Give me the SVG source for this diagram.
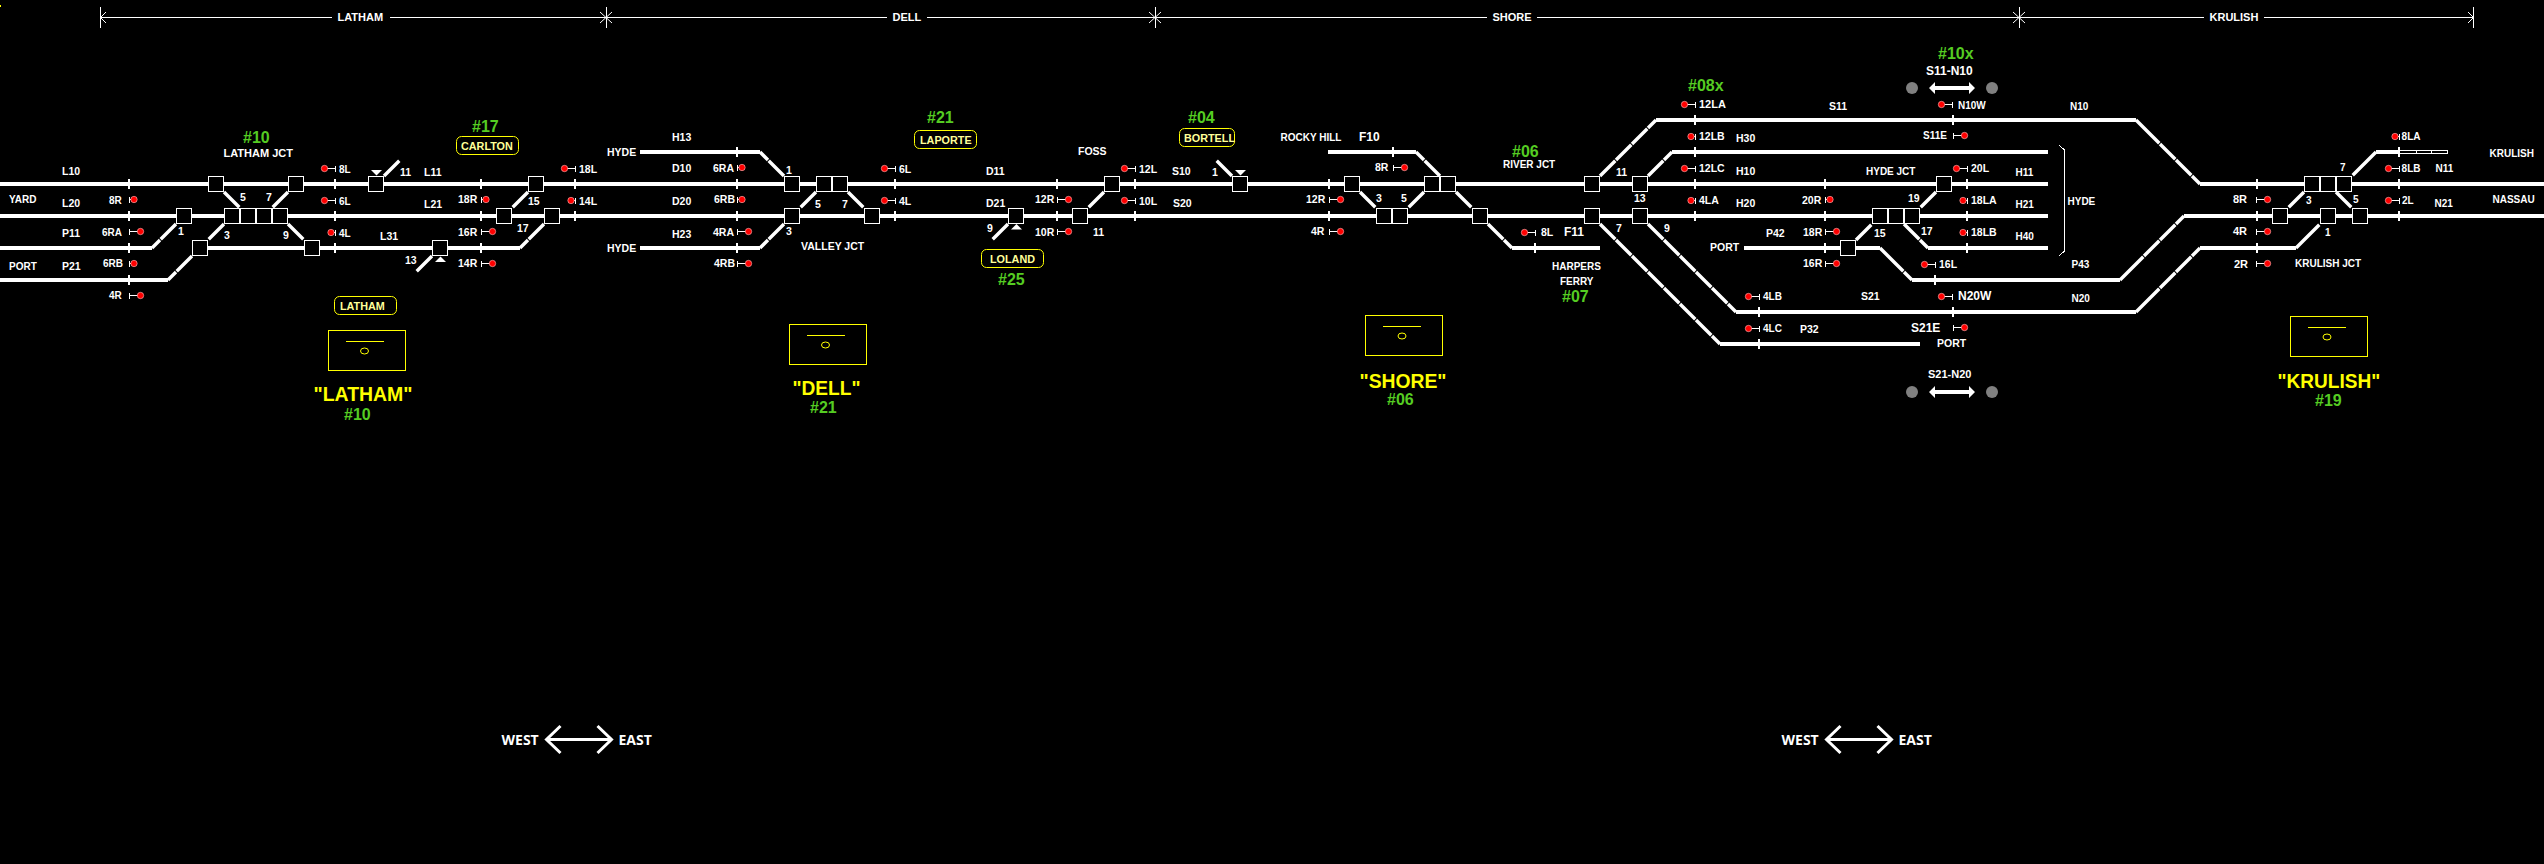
<svg xmlns="http://www.w3.org/2000/svg" xmlns:xlink="http://www.w3.org/1999/xlink" width="2544" height="864" viewBox="0 0 2544 864">
<style>
text{font-family:"Liberation Sans",Arial,sans-serif;font-weight:bold;font-size:10.500px;fill:#fff}
.s{font-size:10px}
.m{font-size:11px}
.l{font-size:12px}
.g{font-size:16px;fill:#55cc22}
.p{font-size:10.800px;fill:#ffff99}
.big{font-size:20px;fill:#ffff00}
.we{font-family:"Open Sans",sans-serif;font-size:14px}
.tr{fill:none;stroke:#fff;stroke-width:4;shape-rendering:crispEdges}
.dg{fill:none;stroke:#fff;stroke-width:3.400;stroke-dasharray:21.627 1}
.tk{fill:none;stroke:#fff;stroke-width:2;shape-rendering:crispEdges}
.thin{fill:none;stroke:#fff;stroke-width:1;shape-rendering:crispEdges}
.bx{fill:#000;stroke:#fff;stroke-width:1;shape-rendering:crispEdges}
.pill{fill:#000;stroke:#ffff00;stroke-width:1}
.st{fill:none;stroke:#ffff00;stroke-width:1;shape-rendering:crispEdges}
.stc{fill:none;stroke:#ffff00;stroke-width:1}
.dot{fill:#ff0000;stroke:#ffc0c0;stroke-width:0.600}
.sl{fill:none;stroke:#fff;stroke-width:1;shape-rendering:crispEdges}
</style>
<defs>
<rect id="b" class="bx" x="-7.5" y="-7.5" width="15" height="15"/>
<g id="sl"><path class="sl" d="M-11 0H0M0 -3V3"/><circle class="dot" cx="-11" r="3.2"/></g>
<g id="sr"><path class="sl" d="M11 0H0M0 -3V3"/><circle class="dot" cx="11" r="3.2"/></g>
<g id="sls"><path class="sl" d="M-4 0H0M0 -3V3"/><circle class="dot" cx="-4.5" r="3.2"/></g>
<g id="srs"><path class="sl" d="M4 0H0M0 -3V3"/><circle class="dot" cx="4.5" r="3.2"/></g>
<polygon id="da" fill="#fff" points="-23,0 -17,-6 -17,-2 17,-2 17,-6 23,0 17,6 17,2 -17,2 -17,6"/>
<path id="we" fill="none" stroke="#fff" stroke-width="3" d="M-32 0H33M-18 -13.500L-32 0L-18 13.500M19 -13.500L33 0L19 13.500"/>
<g id="stn"><rect class="st" x="0.500" y="0.500" width="77" height="40"/><path class="st" d="M18 11.500H56"/><ellipse class="stc" cx="37" cy="21" rx="4" ry="3"/></g>
</defs>
<rect x="0" y="0" width="2544" height="864" fill="#000"/>
<rect x="0" y="5" width="1" height="2" fill="#ffff00"/>
<g id="connectors">
<path class="tr" d="M0 184H2048M2200 184H2544M0 216H2048M2184 216H2544M0 248H152M200 248H520M640 248H760M1512 248H1600M1744 248H1880M1928 248H2048M2200 248H2296M640 152H760M1328 152H1416M1672 152H2048M2376 152H2399M1656 120H2136M0 280H168M1912 280H2120M1736 312H2136M1720 344H1920"/>
<path class="dg" d="M176 224L152 248M192 256L168 280M224 192L240 208M288 192L272 208M224 224L208 240M288 224L304 240M384 176L400 160M432 256L416 272M528 192L512 208M544 224L520 248M784 176L760 152M784 224L760 248M816 192L800 208M848 192L864 208M1008 224L992 240M1104 192L1088 208M1232 176L1216 160M1360 192L1376 208M1424 192L1408 208M1440 176L1416 152M1456 192L1472 208M1488 224L1512 248M1600 176L1656 120M1648 176L1672 152M1648 224L1736 312M1600 224L1720 344M1936 192L1920 208M1856 240L1872 224M1904 224L1928 248M1888 256L1880 248M1888 256L1912 280M2144 128L2136 120M2144 128L2200 184M2128 272L2120 280M2128 272L2184 216M2144 304L2136 312M2144 304L2200 248M2304 240L2296 248M2304 240L2320 224M2304 192L2288 208M2336 192L2352 208M2368 160L2376 152M2368 160L2352 176"/>
<path class="tk" d="M129 179V189M129 211V221M129 243V253M129 275V285M335 179V189M335 211V221M335 243V253M481 179V189M481 211V221M481 243V253M575 179V189M575 211V221M737 147V157M737 179V189M737 211V221M737 243V253M895 179V189M895 211V221M1057 179V189M1057 211V221M1135 179V189M1135 211V221M1329 179V189M1329 211V221M1393 147V157M1535 243V253M1695 115V125M1695 147V157M1695 179V189M1695 211V221M1825 179V189M1825 211V221M1825 243V253M1967 179V189M1967 211V221M1967 243V253M1953 115V125M1935 275V285M1759 307V317M1759 339V349M1953 307V317M2257 179V189M2257 211V221M2257 243V253M2399 147V157M2399 179V189M2399 211V221"/>
<rect class="thin" x="2399.500" y="150.500" width="48" height="3"/>
<path class="thin" d="M2416.500 150V154M2431.500 150V154"/>
<path class="thin" d="M2059 145L2064.500 150V251L2059 256"/>
</g>
<g id="direction-scale">
<path class="thin" d="M100.500 17.500H332M390 17.500H887M927 17.500H1487M1537 17.500H2204M2264 17.500H2473"/>
<path class="thin" d="M100.500 7V28M606.500 7V28M1155.500 7V28M2019.500 7V28M2473.500 7V28"/>
<path fill="none" stroke="#fff" stroke-width="1" d="M106 12L100.500 17.500L106 23M600 12L606 17.500L600 23M612 12L606 17.500L612 23M1149 12L1155 17.500L1149 23M1161 12L1155 17.500L1161 23M2013 12L2019 17.500L2013 23M2025 12L2019 17.500L2025 23M2468 12L2473.500 17.500L2468 23"/>
<text class="m" x="337.500" y="21">LATHAM</text><text class="m" x="892.600" y="21">DELL</text><text class="m" x="1492.500" y="21">SHORE</text><text class="m" x="2209.500" y="21">KRULISH</text>
</g>
<g id="switch-216-184"><use xlink:href="#b" x="216" y="184"/></g>
<g id="switch-296-184"><use xlink:href="#b" x="296" y="184"/></g>
<g id="switch-376-184"><use xlink:href="#b" x="376" y="184"/><polygon fill="#fff" points="371,170 382,170 376.500,175.500"/></g>
<g id="switch-536-184"><use xlink:href="#b" x="536" y="184"/></g>
<g id="switch-792-184"><use xlink:href="#b" x="792" y="184"/></g>
<g id="switch-824-184"><use xlink:href="#b" x="824" y="184"/></g>
<g id="switch-840-184"><use xlink:href="#b" x="840" y="184"/></g>
<g id="switch-1112-184"><use xlink:href="#b" x="1112" y="184"/></g>
<g id="switch-1240-184"><use xlink:href="#b" x="1240" y="184"/><polygon fill="#fff" points="1235,170 1246,170 1240.500,175.500"/></g>
<g id="switch-1352-184"><use xlink:href="#b" x="1352" y="184"/></g>
<g id="switch-1432-184"><use xlink:href="#b" x="1432" y="184"/></g>
<g id="switch-1448-184"><use xlink:href="#b" x="1448" y="184"/></g>
<g id="switch-1592-184"><use xlink:href="#b" x="1592" y="184"/></g>
<g id="switch-1640-184"><use xlink:href="#b" x="1640" y="184"/></g>
<g id="switch-1944-184"><use xlink:href="#b" x="1944" y="184"/></g>
<g id="switch-2312-184"><use xlink:href="#b" x="2312" y="184"/></g>
<g id="switch-2328-184"><use xlink:href="#b" x="2328" y="184"/></g>
<g id="switch-2344-184"><use xlink:href="#b" x="2344" y="184"/></g>
<g id="switch-184-216"><use xlink:href="#b" x="184" y="216"/></g>
<g id="switch-232-216"><use xlink:href="#b" x="232" y="216"/></g>
<g id="switch-248-216"><use xlink:href="#b" x="248" y="216"/></g>
<g id="switch-264-216"><use xlink:href="#b" x="264" y="216"/></g>
<g id="switch-280-216"><use xlink:href="#b" x="280" y="216"/></g>
<g id="switch-504-216"><use xlink:href="#b" x="504" y="216"/></g>
<g id="switch-552-216"><use xlink:href="#b" x="552" y="216"/></g>
<g id="switch-792-216"><use xlink:href="#b" x="792" y="216"/></g>
<g id="switch-872-216"><use xlink:href="#b" x="872" y="216"/></g>
<g id="switch-1016-216"><use xlink:href="#b" x="1016" y="216"/><polygon fill="#fff" points="1011,229.500 1022,229.500 1016.500,224"/></g>
<g id="switch-1080-216"><use xlink:href="#b" x="1080" y="216"/></g>
<g id="switch-1384-216"><use xlink:href="#b" x="1384" y="216"/></g>
<g id="switch-1400-216"><use xlink:href="#b" x="1400" y="216"/></g>
<g id="switch-1480-216"><use xlink:href="#b" x="1480" y="216"/></g>
<g id="switch-1592-216"><use xlink:href="#b" x="1592" y="216"/></g>
<g id="switch-1640-216"><use xlink:href="#b" x="1640" y="216"/></g>
<g id="switch-1880-216"><use xlink:href="#b" x="1880" y="216"/></g>
<g id="switch-1896-216"><use xlink:href="#b" x="1896" y="216"/></g>
<g id="switch-1912-216"><use xlink:href="#b" x="1912" y="216"/></g>
<g id="switch-2280-216"><use xlink:href="#b" x="2280" y="216"/></g>
<g id="switch-2328-216"><use xlink:href="#b" x="2328" y="216"/></g>
<g id="switch-2360-216"><use xlink:href="#b" x="2360" y="216"/></g>
<g id="switch-200-248"><use xlink:href="#b" x="200" y="248"/></g>
<g id="switch-312-248"><use xlink:href="#b" x="312" y="248"/></g>
<g id="switch-440-248"><use xlink:href="#b" x="440" y="248"/><polygon fill="#fff" points="435,262 446,262 440.500,256.500"/></g>
<g id="switch-1848-248"><use xlink:href="#b" x="1848" y="248"/></g>
<g id="signals">
<g id="sig-8L-a"><use xlink:href="#sl" x="335.500" y="168.500"/><text class="s" x="339" y="173">8L</text></g>
<g id="sig-6L-a"><use xlink:href="#sl" x="335.500" y="200.500"/><text class="s" x="339" y="205">6L</text></g>
<g id="sig-4L-a"><use xlink:href="#sls" x="335.500" y="232.500"/><text class="s" x="339" y="237">4L</text></g>
<g id="sig-8R-a"><use xlink:href="#srs" x="129.500" y="199.500"/><text class="s" x="109" y="204">8R</text></g>
<g id="sig-6RA-a"><use xlink:href="#sr" x="129.500" y="231.500"/><text class="s" x="102" y="236">6RA</text></g>
<g id="sig-6RB-a"><use xlink:href="#srs" x="129.500" y="263.500"/><text class="s" x="103" y="267">6RB</text></g>
<g id="sig-4R-a"><use xlink:href="#sr" x="129.500" y="295.500"/><text class="s" x="109" y="299">4R</text></g>
<g id="sig-18L-a"><use xlink:href="#sl" x="575.500" y="168.500"/><text x="579" y="173">18L</text></g>
<g id="sig-14L-a"><use xlink:href="#sls" x="575.500" y="200.500"/><text x="579" y="205">14L</text></g>
<g id="sig-18R-a"><use xlink:href="#srs" x="481.500" y="199.500"/><text x="458" y="203">18R</text></g>
<g id="sig-16R-a"><use xlink:href="#sr" x="481.500" y="231.500"/><text x="458" y="236">16R</text></g>
<g id="sig-14R-a"><use xlink:href="#sr" x="481.500" y="263.500"/><text x="458" y="267">14R</text></g>
<g id="sig-6RA-b"><use xlink:href="#srs" x="737.500" y="167.500"/><text x="713" y="172">6RA</text></g>
<g id="sig-6RB-b"><use xlink:href="#srs" x="737.500" y="199.500"/><text x="714" y="203">6RB</text></g>
<g id="sig-4RA-b"><use xlink:href="#sr" x="737.500" y="231.500"/><text x="713" y="236">4RA</text></g>
<g id="sig-4RB-b"><use xlink:href="#sr" x="737.500" y="263.500"/><text x="714" y="267">4RB</text></g>
<g id="sig-6L-b"><use xlink:href="#sl" x="895.500" y="168.500"/><text x="899" y="173">6L</text></g>
<g id="sig-4L-b"><use xlink:href="#sl" x="895.500" y="200.500"/><text x="899" y="205">4L</text></g>
<g id="sig-12R-b"><use xlink:href="#sr" x="1057.500" y="199.500"/><text x="1035" y="203">12R</text></g>
<g id="sig-10R-b"><use xlink:href="#sr" x="1057.500" y="231.500"/><text x="1035" y="236">10R</text></g>
<g id="sig-12L-b"><use xlink:href="#sl" x="1135.500" y="168.500"/><text x="1139" y="173">12L</text></g>
<g id="sig-10L-b"><use xlink:href="#sl" x="1135.500" y="200.500"/><text x="1139" y="205">10L</text></g>
<g id="sig-12R-c"><use xlink:href="#sr" x="1329.500" y="199.500"/><text x="1306" y="203">12R</text></g>
<g id="sig-4R-c"><use xlink:href="#sr" x="1329.500" y="231.500"/><text x="1311" y="235">4R</text></g>
<g id="sig-8R-c"><use xlink:href="#sr" x="1393.500" y="167.500"/><text x="1375" y="171">8R</text></g>
<g id="sig-8L-c"><use xlink:href="#sl" x="1535.500" y="232.500"/><text x="1541" y="236">8L</text></g>
<g id="sig-12LA"><use xlink:href="#sl" x="1695.500" y="104.500"/><text class="m" x="1699" y="108">12LA</text></g>
<g id="sig-12LB"><use xlink:href="#sls" x="1695.500" y="136.500"/><text x="1699" y="140">12LB</text></g>
<g id="sig-12LC"><use xlink:href="#sl" x="1695.500" y="168.500"/><text x="1699" y="172">12LC</text></g>
<g id="sig-4LA"><use xlink:href="#sls" x="1695.500" y="200.500"/><text x="1699" y="204">4LA</text></g>
<g id="sig-N10W"><use xlink:href="#sl" x="1952.500" y="104.500"/><text class="s" x="1958" y="108.700">N10W</text></g>
<g id="sig-S11E"><use xlink:href="#sr" x="1953.500" y="135.500"/><text class="s" x="1923" y="139">S11E</text></g>
<g id="sig-20L"><use xlink:href="#sl" x="1967.500" y="168.500"/><text x="1971" y="172">20L</text></g>
<g id="sig-20R"><use xlink:href="#srs" x="1825.500" y="199.500"/><text x="1802" y="204">20R</text></g>
<g id="sig-18LA"><use xlink:href="#sls" x="1967.500" y="200.500"/><text x="1971" y="204">18LA</text></g>
<g id="sig-18R-e"><use xlink:href="#sr" x="1825.500" y="231.500"/><text x="1803" y="236">18R</text></g>
<g id="sig-18LB"><use xlink:href="#sls" x="1967.500" y="232.500"/><text x="1971" y="236">18LB</text></g>
<g id="sig-16R-e"><use xlink:href="#sr" x="1825.500" y="263.500"/><text x="1803" y="267">16R</text></g>
<g id="sig-16L-e"><use xlink:href="#sl" x="1935.500" y="264.500"/><text x="1939" y="268">16L</text></g>
<g id="sig-4LB"><use xlink:href="#sl" x="1759.500" y="296.500"/><text class="s" x="1763" y="300">4LB</text></g>
<g id="sig-4LC"><use xlink:href="#sl" x="1759.500" y="328.500"/><text class="s" x="1763" y="332">4LC</text></g>
<g id="sig-N20W"><use xlink:href="#sl" x="1952.500" y="296.500"/><text class="l" x="1958" y="300">N20W</text></g>
<g id="sig-S21E"><use xlink:href="#sr" x="1953.500" y="327.500"/><text class="l" x="1911" y="331.700">S21E</text></g>
<g id="sig-8LA"><use xlink:href="#sls" x="2399.500" y="136.500"/><text class="s" x="2401.600" y="140">8LA</text></g>
<g id="sig-8LB"><use xlink:href="#sl" x="2399.500" y="168.500"/><text class="s" x="2401.600" y="172">8LB</text></g>
<g id="sig-2L"><use xlink:href="#sl" x="2399.500" y="200.500"/><text class="s" x="2402" y="204">2L</text></g>
<g id="sig-8R-k"><use xlink:href="#sr" x="2256.500" y="199.500"/><text class="m" x="2233" y="203">8R</text></g>
<g id="sig-4R-k"><use xlink:href="#sr" x="2256.500" y="231.500"/><text class="m" x="2233" y="235">4R</text></g>
<g id="sig-2R-k"><use xlink:href="#sr" x="2256.500" y="263.500"/><text class="m" x="2234" y="267.700">2R</text></g>
</g>
<g id="labels">
<text class="g" x="243" y="142.500">#10</text>
<text class="m" x="223.500" y="157">LATHAM JCT</text>
<text x="62" y="175">L10</text><text class="s" x="9" y="203">YARD</text><text x="62" y="207">L20</text><text x="62" y="237">P11</text><text class="s" x="9" y="270">PORT</text><text x="62" y="270">P21</text>
<text x="178" y="235">1</text><text x="224" y="239">3</text><text x="240" y="201">5</text><text x="266" y="201">7</text><text x="283" y="239">9</text>
<text x="400" y="176">11</text><text x="380" y="240">L31</text><text x="405" y="264">13</text>
<text class="g" x="472" y="132">#17</text>
<text x="424" y="176">L11</text><text x="424" y="208">L21</text><text x="528" y="205">15</text><text x="517" y="232">17</text>
<text x="607" y="156">HYDE</text><text x="672" y="141">H13</text><text x="672" y="172">D10</text><text x="786" y="174">1</text><text x="672" y="205">D20</text><text x="672" y="238">H23</text><text x="607" y="252">HYDE</text><text x="786" y="235">3</text><text x="815" y="208">5</text><text x="842" y="208">7</text><text x="801" y="250">VALLEY JCT</text>
<text class="g" x="927" y="122.500">#21</text>
<text class="g" x="1188" y="123">#04</text>
<text x="986" y="175">D11</text><text x="986" y="207">D21</text><text x="1078" y="155">FOSS</text><text x="1172" y="175">S10</text><text x="1173" y="207">S20</text><text x="987" y="232">9</text><text x="1093" y="236">11</text>
<text class="g" x="998" y="285">#25</text>
<text x="1212" y="176">1</text><text class="s" x="1280.500" y="141">ROCKY HILL</text><text class="l" x="1359" y="141">F10</text><text x="1376" y="202">3</text><text x="1401" y="202">5</text>
<text class="g" x="1512" y="157">#06</text>
<text class="s" x="1503" y="168">RIVER JCT</text><text class="l" x="1564" y="236">F11</text><text class="s" x="1552" y="270">HARPERS</text><text class="s" x="1560" y="285">FERRY</text>
<text class="g" x="1562" y="301.500">#07</text>
<text class="g" x="1688" y="91">#08x</text>
<text class="g" x="1938" y="59">#10x</text>
<text class="l" x="1926" y="75">S11-N10</text>
<text x="1829" y="110">S11</text><text x="1736" y="141.500">H30</text><text x="1736" y="174.500">H10</text><text class="s" x="1866" y="174.500">HYDE JCT</text>
<text x="1616" y="176">11</text><text x="1634" y="202">13</text><text x="1736" y="206.500">H20</text><text x="1908" y="202">19</text><text x="1616" y="231.500">7</text><text x="1664" y="231.500">9</text>
<text x="1766" y="236.500">P42</text><text x="1874" y="237">15</text><text x="1921" y="235">17</text><text x="1710" y="250.500">PORT</text><text x="1861" y="300">S21</text><text x="1800" y="332.500">P32</text><text x="1937" y="347">PORT</text><text class="m" x="1928" y="377.500">S21-N20</text>
<text class="s" x="2070" y="110">N10</text><text class="s" x="2015.500" y="175.500">H11</text><text class="s" x="2015.500" y="208">H21</text><text class="s" x="2015.500" y="240">H40</text><text class="s" x="2067.500" y="205">HYDE</text><text class="s" x="2071.500" y="267.500">P43</text><text class="s" x="2071.500" y="301.500">N20</text>
<text class="s" x="2306" y="203.500">3</text><text class="s" x="2353" y="202.500">5</text><text class="s" x="2325" y="236">1</text><text class="s" x="2340" y="171">7</text>
<text class="s" x="2435.500" y="172">N11</text><text class="s" x="2489.500" y="156.500">KRULISH</text><text class="s" x="2434.500" y="207">N21</text><text class="s" x="2492.500" y="203">NASSAU</text><text class="s" x="2295" y="266.500">KRULISH JCT</text>
</g>
<g id="crossover-s11-n10"><circle cx="1912" cy="88" r="6" fill="#808080"/><circle cx="1992" cy="88" r="6" fill="#808080"/><use xlink:href="#da" x="1952" y="88"/></g>
<g id="crossover-s21-n20"><circle cx="1912" cy="392" r="6" fill="#808080"/><circle cx="1992" cy="392" r="6" fill="#808080"/><use xlink:href="#da" x="1952" y="392"/></g>
<g id="pill-carlton"><rect class="pill" x="456.500" y="136.500" width="62" height="18" rx="5"/><text class="p" x="461" y="150">CARLTON</text></g>
<g id="pill-laporte"><rect class="pill" x="914.500" y="130.500" width="62" height="18" rx="5"/><text class="p" x="920" y="144">LAPORTE</text></g>
<g id="pill-bortell"><rect class="pill" x="1179.500" y="128.500" width="55" height="18" rx="5"/><text class="p" x="1184" y="142">BORTELL</text></g>
<g id="pill-loland"><rect class="pill" x="981.500" y="249.500" width="62" height="18" rx="5"/><text class="p" x="990" y="263">LOLAND</text></g>
<g id="pill-latham"><rect class="pill" x="334.500" y="296.500" width="62" height="18" rx="5"/><text class="p" x="340" y="310">LATHAM</text></g>
<g id="station-latham"><use xlink:href="#stn" x="327.500" y="330"/><text class="big" x="313.500" y="401" textLength="99" lengthAdjust="spacingAndGlyphs">"LATHAM"</text><text class="g" x="344" y="420">#10</text></g>
<g id="station-dell"><use xlink:href="#stn" x="788.500" y="324"/><text class="big" x="792.500" y="395" textLength="68" lengthAdjust="spacingAndGlyphs">"DELL"</text><text class="g" x="810" y="413">#21</text></g>
<g id="station-shore"><use xlink:href="#stn" x="1365" y="315"/><text class="big" x="1359.500" y="388" textLength="87" lengthAdjust="spacingAndGlyphs">"SHORE"</text><text class="g" x="1387" y="405">#06</text></g>
<g id="station-krulish"><use xlink:href="#stn" x="2290" y="316"/><text class="big" x="2277.500" y="388" textLength="102.700" lengthAdjust="spacingAndGlyphs">"KRULISH"</text><text class="g" x="2315" y="406">#19</text></g>
<g id="compass-1"><text class="we" x="501.500" y="744.500">WEST</text><use xlink:href="#we" x="578.500" y="739.500"/><text class="we" x="618.500" y="744.500">EAST</text></g>
<g id="compass-2"><text class="we" x="1781.500" y="744.500">WEST</text><use xlink:href="#we" x="1858.500" y="739.500"/><text class="we" x="1898.500" y="744.500">EAST</text></g>
</svg>
